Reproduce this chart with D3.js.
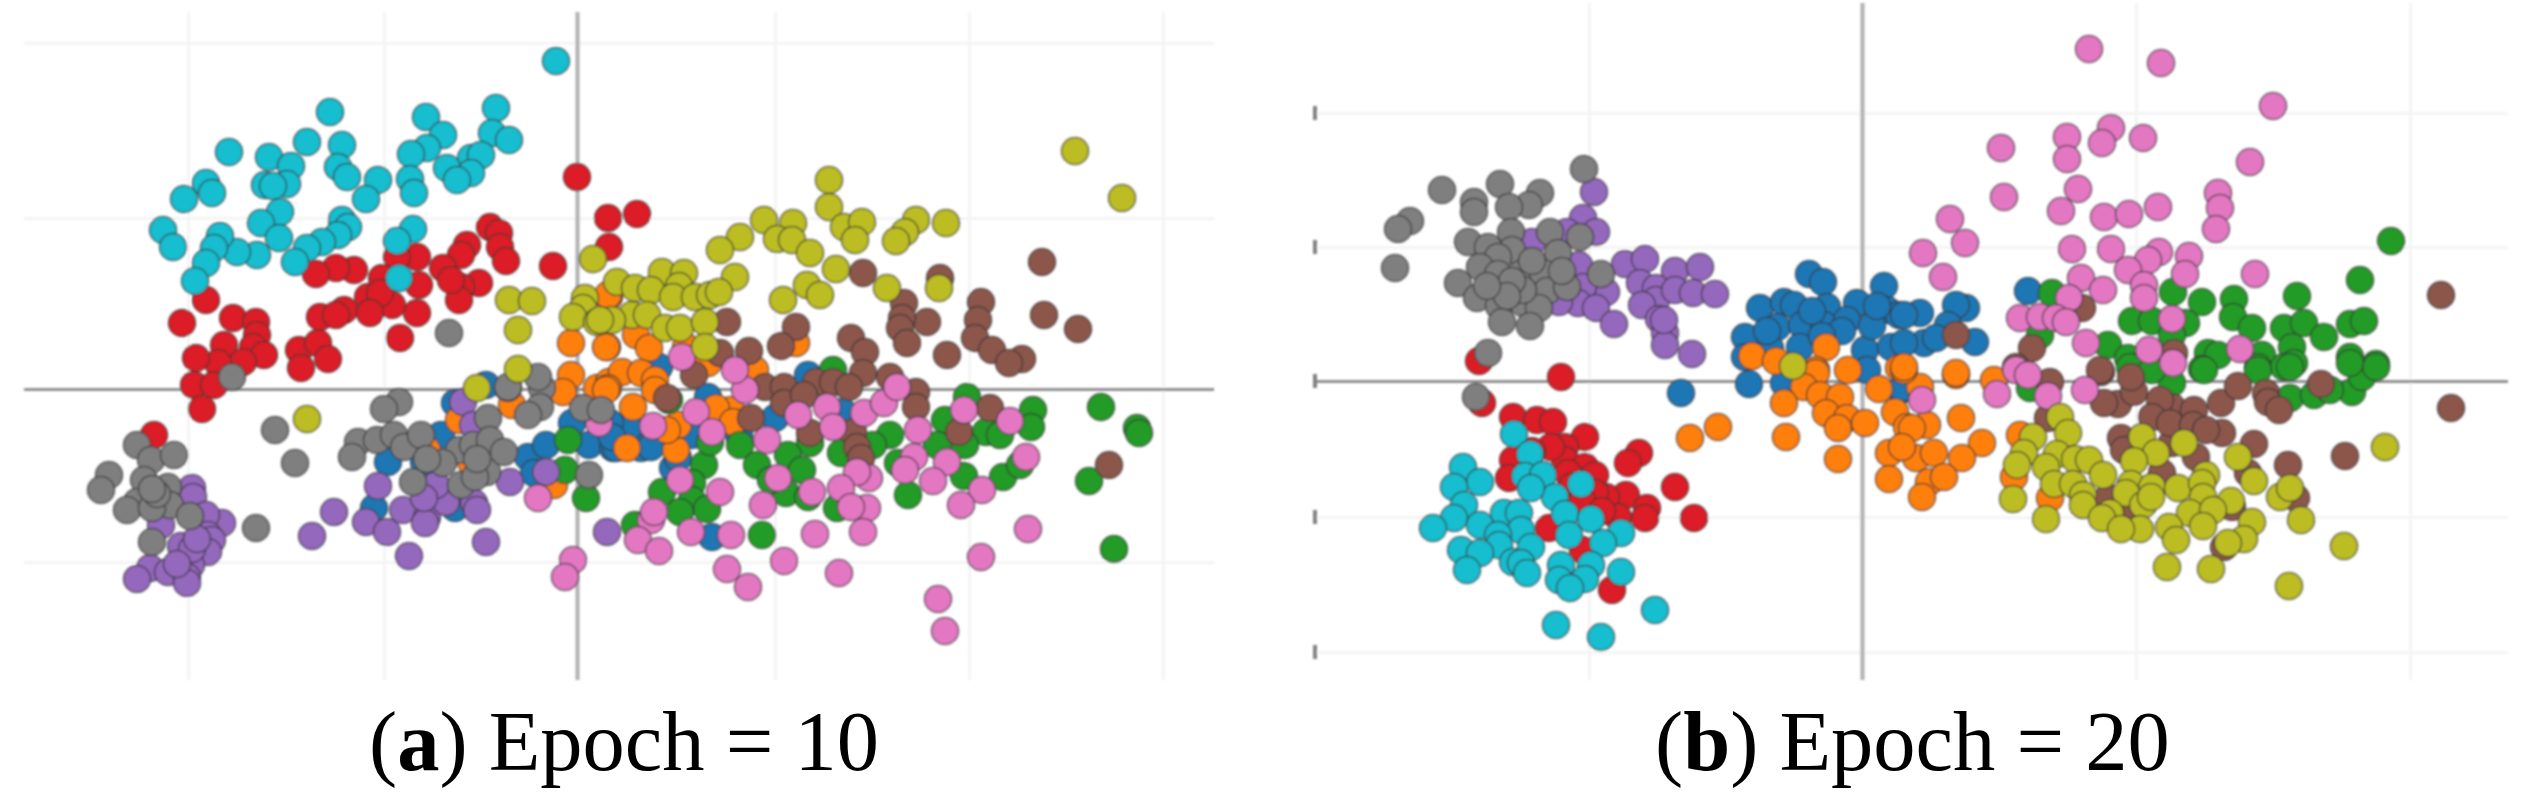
<!DOCTYPE html>
<html lang="en">
<head>
  <meta charset="utf-8">
  <title>Epoch 10 / Epoch 20 scatter</title>
  <style>
    html, body { margin: 0; padding: 0; background: #fff; }
    svg { display: block; }
    .grid line { stroke: #f4f4f4; stroke-width: 3; }
    .grid .domain { display: none; }
    .zeroX line { stroke: #7c7c7c; stroke-width: 2.4; }
    .zeroY line { stroke: #b0b0b0; stroke-width: 4; }
    .zeroX .domain, .zeroY .domain { display: none; }
    .dot { stroke: #333; stroke-opacity: 0.7; stroke-width: 1.6; }
    .caption { font-family: "Liberation Serif", serif; font-size: 84.5px; fill: #000; }
    .caption .tag { font-weight: bold; }
  </style>
</head>
<body>
<div id="chart"></div>

<script src="https://cdnjs.cloudflare.com/ajax/libs/d3/7.8.5/d3.min.js"></script>
<script>

  ////////////////////////////////////////////////// DATA
  // no tick labels survive in the picture, values are in arbitrary units read off it

  var classNames = ["blue", "orange", "green", "red", "purple", "brown", "pink", "gray", "olive", "cyan"];
  var classColors = ["#1f77b4", "#ff7f0e", "#249c28", "#dc1f26", "#9467bd", "#8c564b", "#e377c2", "#7f7f7f", "#bcbd22", "#17becf"];

  // Epoch = 10
  var blue10 = [[-189,-73],[-136,-46],[-153,-73],[-203,-119],[-122,-14],[-91,4],[-122,-119],[-49,-68],[-31,-56],[-43,-84],[-5,-34],[12,-56],[40,-38],[36,-59],[39,-59],[64,-59],[74,-58],[52,-38],[33,-34],[115,-46],[96,-79],[135,-148],[82,22],[131,-8],[198,-29],[231,14],[266,-23],[162,-46],[101,-69],[35,-48]];
  var orange10 = [[-6,46],[30,42],[-6,14],[20,1],[32,92],[32,7],[31,94],[29,42],[59,54],[72,41],[45,17],[64,16],[78,9],[31,1],[178,19],[219,46],[131,26],[109,42],[-118,-31],[-150,-61],[-65,-16],[-14,-3],[-23,-96],[-106,-73],[29,-1],[56,-18],[78,-1],[50,-59],[99,-61],[101,-36],[154,-21],[139,-19],[156,-33],[90,-41]];
  var green10 = [[390,-8],[456,-21],[454,-38],[368,-31],[409,-43],[423,-46],[388,-56],[360,-56],[313,-46],[233,-54],[264,-64],[296,-56],[321,-74],[331,-106],[387,-87],[426,-88],[443,-76],[524,-18],[560,-39],[562,-44],[512,-92],[537,-160],[163,-56],[180,-76],[211,-66],[225,-81],[209,-104],[194,-91],[127,-76],[85,-103],[115,-94],[115,-111],[103,-123],[130,-120],[58,-136],[185,-146],[260,-119],[231,-108],[133,-53],[256,19],[92,-11],[-9,-51],[-12,-81],[9,-109]];
  var red10 = [[0,212],[31,171],[32,142],[-24,123],[-87,162],[-78,156],[-77,142],[-71,128],[-110,144],[-116,134],[-134,121],[-98,106],[-116,102],[-118,89],[-126,109],[-160,132],[-180,132],[-158,104],[-160,76],[-177,51],[-185,84],[-195,111],[-209,92],[-197,96],[-233,79],[-257,72],[-241,74],[-207,76],[-223,119],[-241,121],[-261,115],[-371,89],[-395,66],[-344,71],[-321,67],[-320,54],[-353,44],[-324,42],[-313,34],[-334,27],[-359,26],[-381,31],[-383,4],[-363,4],[-278,39],[-259,46],[-249,30],[-276,21],[-375,-20],[-423,-46],[60,175]];
  var purple10 = [[-385,-99],[-384,-108],[-355,-134],[-371,-126],[-416,-136],[-369,-146],[-365,-151],[-396,-157],[-369,-163],[-386,-176],[-427,-179],[-409,-183],[-390,-188],[-390,-194],[-440,-190],[-199,-97],[-243,-123],[-265,-147],[-211,-133],[-190,-143],[-168,-167],[-174,-121],[-150,-128],[-152,-134],[-131,-113],[-141,-96],[-103,-114],[-100,-121],[-91,-153],[-67,-93],[-31,-83],[30,-143],[-114,-13],[-104,-36],[-153,-109],[-385,-160],[-380,-150],[-400,-175]];
  var brown10 = [[286,116],[363,111],[465,127],[327,86],[404,87],[467,74],[501,60],[350,67],[325,71],[323,61],[401,69],[398,51],[330,46],[415,39],[445,30],[432,26],[370,34],[274,51],[288,37],[219,62],[204,43],[150,67],[143,36],[172,38],[117,14],[188,2],[207,2],[239,7],[256,7],[286,16],[272,2],[313,12],[339,-3],[339,-18],[413,-19],[382,-43],[233,-44],[276,-43],[280,-58],[284,-69],[174,-29],[207,-14],[90,-9],[532,-76],[227,-6]];
  var pink10 = [[168,-1],[119,-23],[76,-37],[135,-43],[190,-51],[221,-26],[250,-18],[256,-38],[287,-24],[307,-14],[320,2],[387,-21],[433,-32],[341,-41],[370,-73],[337,-68],[328,-81],[356,-92],[449,-68],[405,-101],[384,-116],[292,-89],[280,-83],[264,-99],[235,-103],[201,-89],[143,-103],[103,-91],[186,-116],[290,-119],[274,-118],[286,-143],[238,-145],[154,-146],[114,-143],[74,-131],[77,-123],[61,-151],[82,-162],[150,-180],[171,-198],[207,-172],[262,-184],[451,-140],[404,-168],[361,-210],[368,-242],[105,32],[158,19],[-39,-109],[-4,-171],[-12,-188],[22,-34]];
  var gray10 = [[-128,56],[-345,12],[-178,-13],[-193,-20],[-302,-41],[-282,-74],[-440,-56],[-426,-71],[-403,-66],[-468,-86],[-476,-101],[-433,-91],[-409,-98],[-440,-113],[-407,-116],[-450,-121],[-425,-119],[-387,-127],[-425,-153],[-321,-139],[-219,-53],[-225,-68],[-200,-51],[-183,-46],[-173,-58],[-156,-46],[-89,-29],[-164,-93],[-118,-61],[-134,-74],[-104,-56],[-87,-51],[-90,-83],[-116,-96],[-73,-63],[-102,-88],[-69,1],[-35,1],[-37,-18],[-49,-26],[6,-19],[24,-21],[12,-86],[-39,12],[-69,2],[-420,-105],[-425,-100],[-150,-70],[-100,-70]];
  var olive10 = [[16,130],[-68,89],[-45,88],[-59,59],[8,91],[6,81],[-4,72],[20,67],[-59,20],[-100,1],[498,238],[545,191],[252,209],[252,182],[187,169],[216,166],[163,152],[143,139],[200,150],[215,149],[233,136],[267,162],[285,167],[278,149],[339,169],[328,157],[319,148],[369,166],[259,120],[230,104],[243,94],[206,89],[310,101],[362,101],[158,112],[85,117],[107,116],[102,103],[40,107],[58,101],[74,99],[96,92],[118,92],[133,94],[142,97],[55,74],[70,74],[88,61],[103,61],[128,67],[128,42],[35,69],[23,69],[-270,-30]];
  var cyan10 = [[-21,328],[-247,277],[-81,281],[-151,272],[-134,254],[-270,247],[-235,244],[-348,237],[-308,232],[-286,223],[-85,256],[-68,249],[-150,241],[-166,235],[-106,231],[-96,234],[-130,221],[-106,216],[-120,209],[-371,206],[-365,196],[-393,190],[-239,222],[-230,212],[-199,209],[-211,190],[-167,210],[-163,196],[-312,204],[-290,205],[-304,203],[-297,177],[-316,166],[-235,169],[-229,162],[-239,154],[-255,147],[-270,141],[-282,127],[-298,151],[-320,134],[-340,137],[-357,153],[-363,141],[-371,126],[-382,108],[-414,159],[-404,142],[-164,160],[-180,148],[-178,111]];

  // Epoch = 20
  var blue20 = [[-53,107],[-39,99],[22,95],[-102,73],[-78,79],[-68,76],[-35,74],[-5,78],[-85,54],[-60,56],[-38,56],[25,71],[37,66],[-117,44],[-62,34],[-92,33],[-15,61],[3,31],[29,34],[-117,24],[-113,-3],[-181,-12],[-78,-2],[5,11],[39,-9],[166,90],[104,73],[94,76],[58,68],[42,66],[86,56],[113,39],[62,38],[74,43],[42,38],[40,-7],[-50,70],[-20,50],[10,55],[-40,45],[15,75],[-95,50]];
  var orange20 = [[-110,25],[-86,20],[-36,34],[-46,11],[-14,11],[37,13],[-46,8],[-58,-6],[-78,-22],[-42,-14],[-22,-16],[-36,-32],[-15,-37],[3,-42],[-24,-47],[17,-8],[33,-31],[-144,-46],[-172,-57],[-76,-56],[-24,-78],[27,-72],[27,-98],[45,-46],[94,6],[132,1],[58,-6],[99,-37],[120,-62],[65,-44],[50,-47],[100,-77],[54,-77],[72,-72],[67,-101],[82,-96],[60,-116],[40,-66],[152,-96],[188,-117],[158,-54],[42,11],[42,14],[94,8]];
  var green20 = [[190,88],[529,140],[498,101],[435,85],[311,89],[340,79],[372,82],[371,64],[270,60],[290,60],[324,58],[390,53],[422,53],[442,58],[462,44],[488,57],[502,60],[430,34],[310,46],[246,36],[178,46],[266,23],[346,28],[356,26],[400,26],[396,14],[432,18],[422,14],[340,12],[488,24],[514,17],[282,18],[310,-2],[342,11],[428,14],[396,11],[490,-11],[500,4],[514,14],[488,18],[428,-17],[452,-14],[468,-9],[168,-7],[268,14],[290,11]];
  var red20 = [[-383,20],[-301,4],[-380,-22],[-349,-36],[-325,-39],[-309,-41],[-277,-56],[-297,-66],[-223,-72],[-234,-82],[-349,-79],[-353,-97],[-297,-79],[-277,-86],[-267,-94],[-294,-92],[-187,-106],[-236,-114],[-256,-116],[-215,-127],[-217,-137],[-168,-137],[-244,-136],[-313,-147],[-279,-169],[-250,-209],[-267,-112],[-311,-66],[-290,-105],[-280,-120],[-260,-130],[-330,-70]];
  var purple20 = [[-268,189],[-279,163],[-266,149],[-295,149],[-330,139],[-283,116],[-237,117],[-217,122],[-187,110],[-162,114],[-256,89],[-279,94],[-222,98],[-206,93],[-206,81],[-220,76],[-187,91],[-169,88],[-147,87],[-284,78],[-266,73],[-303,79],[-248,57],[-203,62],[-197,48],[-197,36],[-170,27],[-198,61]];
  var brown20 = [[589,-27],[483,-75],[426,-84],[392,-63],[360,-52],[334,-76],[310,-62],[310,-26],[298,-19],[332,-29],[290,-36],[308,-42],[331,-44],[344,-49],[359,-22],[376,-5],[404,-12],[406,-21],[417,-29],[459,-3],[256,-23],[242,-22],[272,-11],[269,4],[239,9],[188,-1],[186,-37],[259,-57],[262,-69],[300,-92],[386,-92],[434,-117],[246,-117],[370,-126],[274,-127],[362,-166],[579,86],[170,33],[94,46],[220,73],[238,11],[312,28],[154,14]];
  var pink20 = [[227,332],[299,318],[411,275],[388,219],[249,253],[240,238],[205,244],[205,222],[281,243],[139,233],[142,184],[216,192],[199,170],[242,164],[267,167],[296,174],[356,188],[358,173],[354,152],[88,162],[103,138],[61,128],[81,104],[210,132],[249,132],[297,129],[286,121],[327,125],[323,107],[266,111],[393,107],[219,103],[241,91],[282,96],[282,83],[207,83],[158,63],[178,64],[194,63],[204,59],[310,62],[224,38],[287,31],[378,32],[311,18],[154,11],[135,-13],[186,-15],[223,-9],[60,-19],[166,6]];
  var gray20 = [[-278,212],[-420,191],[-362,197],[-388,179],[-388,169],[-322,188],[-333,176],[-353,174],[-452,160],[-464,152],[-467,113],[-394,139],[-374,134],[-351,149],[-312,149],[-350,131],[-304,128],[-364,124],[-382,114],[-364,107],[-341,107],[-319,108],[-404,98],[-385,83],[-315,90],[-295,94],[-363,75],[-339,78],[-323,73],[-360,59],[-332,55],[-261,107],[-374,28],[-386,-16],[-282,144],[-339,91],[-350,100],[-330,120],[-300,110],[-355,85],[-375,95]];
  var olive20 = [[523,-66],[198,-36],[206,-52],[171,-56],[162,-72],[155,-84],[151,-118],[184,-138],[195,-73],[213,-78],[227,-79],[184,-86],[241,-94],[192,-103],[211,-103],[221,-114],[221,-124],[280,-56],[294,-72],[272,-80],[322,-62],[376,-76],[392,-100],[269,-103],[290,-106],[316,-107],[344,-94],[340,-102],[341,-116],[264,-112],[281,-124],[289,-116],[369,-120],[328,-132],[351,-129],[248,-132],[240,-137],[278,-148],[259,-148],[307,-146],[314,-159],[341,-145],[390,-141],[382,-158],[366,-162],[418,-116],[428,-107],[439,-139],[482,-165],[305,-186],[349,-188],[427,-205],[-69,15]];
  var cyan20 = [[-348,-53],[-332,-73],[-337,-95],[-319,-94],[-399,-86],[-382,-101],[-408,-106],[-281,-103],[-307,-116],[-331,-107],[-398,-124],[-408,-137],[-429,-147],[-382,-144],[-358,-132],[-343,-132],[-297,-133],[-271,-138],[-241,-152],[-341,-149],[-364,-154],[-363,-164],[-331,-166],[-293,-154],[-259,-162],[-401,-169],[-382,-172],[-395,-189],[-349,-181],[-341,-182],[-335,-192],[-301,-184],[-271,-184],[-241,-191],[-277,-198],[-303,-199],[-292,-207],[-207,-229],[-306,-244],[-261,-256]];

  // grid positions
  var gridX10 = [-389, -193, 0, 198, 392, 586];
  var gridY10 = [346, 171, 0, -173];
  var gridX20 = [-273, 0, 274, 548];
  var gridY20 = [268, 134, 0, -136, -271];

  var series10 = [blue10, orange10, green10, red10, purple10, brown10, pink10, gray10, olive10, cyan10];
  var series20 = [blue20, orange20, green20, red20, purple20, brown20, pink20, gray20, olive20, cyan20];

  ////////////////////////////////////////////////// SETUP

  var svg = d3.select("#chart").append("svg")
    .attr("width", 2527)
    .attr("height", 808);

  // source picture is a soft upscale, keep the marks a little blurred too
  svg.append("defs").append("filter")
    .attr("id", "soft")
    .append("feGaussianBlur")
    .attr("stdDeviation", 0.8);

  drawPanel({
    series: series10, gridX: gridX10, gridY: gridY10,
    xDomain: [-553, 637], xRange: [24, 1214],
    yDomain: [377, -291], yRange: [12, 680],
    stubs: false
  });

  drawPanel({
    series: series20, gridX: gridX20, gridY: gridY20,
    xDomain: [-546, 646], xRange: [1316, 2508],
    yDomain: [378, -299], yRange: [3, 680],
    stubs: true
  });

  drawCaption(369, 770, "a", "Epoch = 10");
  drawCaption(1655, 770, "b", "Epoch = 20");

  ////////////////////////////////////////////////// FUNCTIONS

  function drawPanel(p) {
    var x = d3.scaleLinear().domain(p.xDomain).range(p.xRange);
    var y = d3.scaleLinear().domain(p.yDomain).range(p.yRange);
    var g = svg.append("g").attr("filter", "url(#soft)");
    var height = p.yRange[1] - p.yRange[0];
    var width = p.xRange[1] - p.xRange[0];

    // grid
    g.append("g").attr("class", "grid")
      .attr("transform", "translate(0," + p.yRange[1] + ")")
      .call(d3.axisBottom(x).tickValues(p.gridX).tickSize(-height).tickFormat(""));
    g.append("g").attr("class", "grid")
      .attr("transform", "translate(" + p.xRange[0] + ",0)")
      .call(d3.axisRight(y).tickValues(p.gridY).tickSize(width).tickFormat(""));

    // zero lines
    g.append("g").attr("class", "zeroY")
      .attr("transform", "translate(0," + p.yRange[1] + ")")
      .call(d3.axisBottom(x).tickValues([0]).tickSize(-height).tickFormat(""));
    g.append("g").attr("class", "zeroX")
      .attr("transform", "translate(" + p.xRange[0] + ",0)")
      .call(d3.axisRight(y).tickValues([0]).tickSize(width).tickFormat(""));

    // what is left of the clipped tick labels
    if (p.stubs) {
      g.selectAll("rect.stub")
        .data(p.gridY)
        .enter().append("rect")
        .attr("class", "stub")
        .attr("x", p.xRange[0] - 3)
        .attr("y", function(d) { return y(d) - 7; })
        .attr("width", 4)
        .attr("height", 14)
        .attr("fill", "#808080");
    }

    // one group per class, same order as the palette
    p.series.forEach(function(points, i) {
      g.append("g").attr("class", "class-" + classNames[i])
        .selectAll("circle")
        .data(points)
        .enter().append("circle")
        .attr("class", "dot")
        .attr("cx", function(d) { return x(d[0]); })
        .attr("cy", function(d) { return y(d[1]); })
        .attr("r", 13.5)
        .attr("fill", classColors[i]);
    });
  }

  function drawCaption(left, baseline, tag, label) {
    var t = svg.append("text")
      .attr("class", "caption")
      .attr("x", left)
      .attr("y", baseline);
    t.append("tspan").text("(");
    t.append("tspan").attr("class", "tag").text(tag);
    t.append("tspan").text(") " + label);
  }

</script>
</body>
</html>
